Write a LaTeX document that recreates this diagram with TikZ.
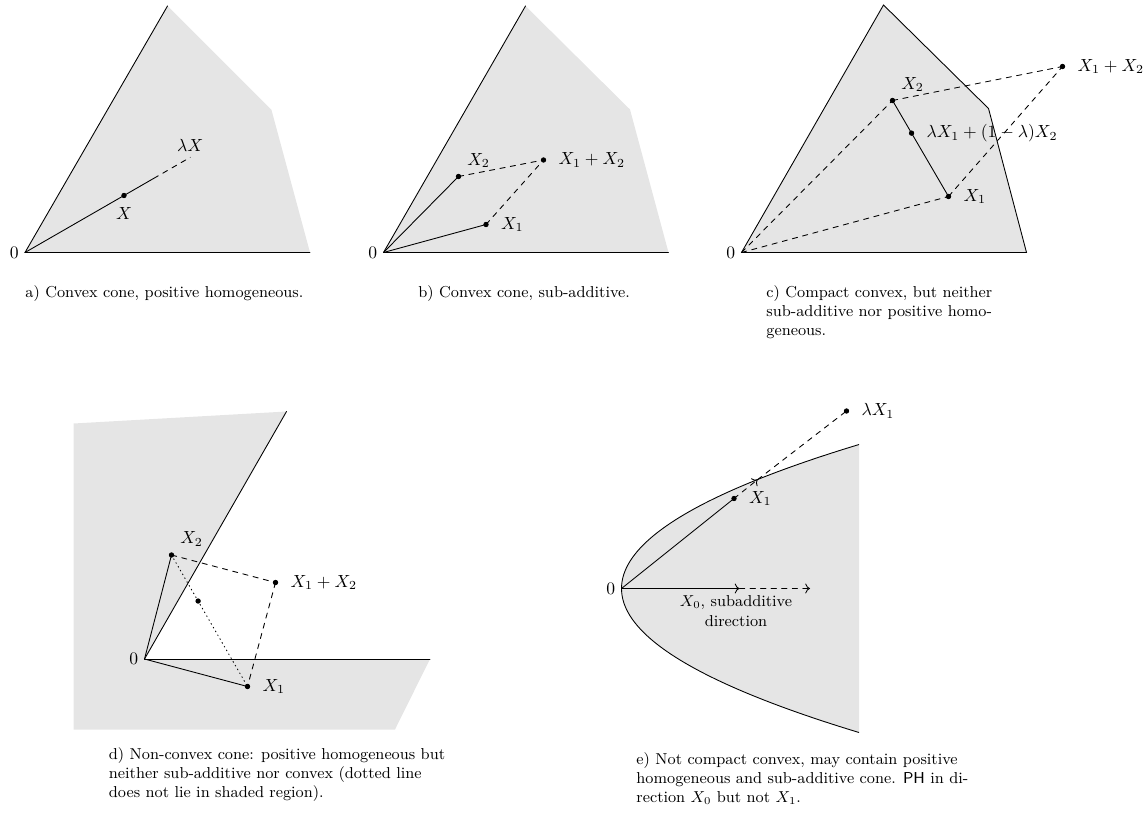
\documentclass[tikz,border=0pt]{standalone}
\usepackage{amsmath, amssymb}
\usepackage{tikz}
\usetikzlibrary{calc}
\usepackage{tkz-euclide}

\begin{document}
\begin{tikzpicture}[line width=0.5pt, region/.style={fill=gray!20},
    capt/.style={font=\small, align=left, anchor=north west, inner sep=0pt}]
    \tkzSetUpLine[line width=0.5pt]
    \tkzSetUpPoint[size=2.5pt, fill=black]
    \useasboundingbox (0,0) rectangle (22.9,16.24);

    % --- 1. (a) 凸錐，正齊次 ---
    \tkzDefPoint(0.50,11.19){O_a}
    \tkzDefPoint(3.35,16.12){P_a}
    \tkzDefPoint(5.43,14.04){Q_a}
    \tkzDefPoint(6.20,11.19){R_a}
    \tkzDefPoint(2.48,12.33){X_a}
    \coordinate (Y_a) at ($(O_a)!1.3!(X_a)$);
    \coordinate (L_a) at ($(O_a)!1.67!(X_a)$);
    \fill[region] (O_a) -- (P_a) -- (Q_a) -- (R_a) -- cycle;
    \tkzDrawSegments(O_a,P_a O_a,R_a O_a,Y_a)
    \tkzDrawSegment[dashed](Y_a,L_a)
    \tkzDrawPoints[fill=black](X_a)
    \tkzLabelPoint[left](O_a){$0$}
    \tkzLabelPoint[below=3pt](X_a){$X$}
    \tkzLabelPoint[above](L_a){$\lambda X$}
    \node[capt] (cap_a) at (0.50,10.54) {a) Convex cone, positive homogeneous.};

    % --- 2. (b) 凸錐，次可加 ---
    \tkzDefPoint(7.67,11.19){O_b}
    \tkzDefPoint(10.51,16.12){P_b}
    \tkzDefPoint(12.60,14.05){Q_b}
    \tkzDefPoint(13.37,11.19){R_b}
    \tkzDefPoint(9.72,11.75){X_b1}
    \tkzDefPoint(9.17,12.71){X_b2}
    \tkzDefPoint(10.87,13.04){S_b}
    \fill[region] (O_b) -- (P_b) -- (Q_b) -- (R_b) -- cycle;
    \tkzDrawSegments(O_b,P_b O_b,R_b O_b,X_b1 O_b,X_b2)
    \tkzDrawSegments[dashed](X_b2,S_b X_b1,S_b)
    \tkzDrawPoints[fill=black](X_b1,X_b2,S_b)
    \tkzLabelPoint[left](O_b){$0$}
    \tkzLabelPoint[above right=2pt](X_b2){$X_2$}
    \tkzLabelPoint[right=5pt](S_b){$X_1 + X_2$}
    \tkzLabelPoint[right=5pt](X_b1){$X_1$}
    \node[capt] (cap_b) at (8.36,10.54) {b) Convex cone, sub-additive.};

    % --- 3. (c) 緊凸集 ---
    \tkzDefPoint(14.83,11.19){O_c}
    \tkzDefPoint(17.67,16.14){P_c}
    \tkzDefPoint(19.77,14.07){Q_c}
    \tkzDefPoint(20.53,11.19){R_c}
    \tkzDefPoint(18.97,12.31){X_c1}
    \tkzDefPoint(17.85,14.23){X_c2}
    \tkzDefPoint(21.25,14.91){S_c}
    \coordinate (L_c) at ($(X_c2)!0.34!(X_c1)$);
    \draw[region] (O_c) -- (P_c) -- (Q_c) -- (R_c) -- cycle;
    \tkzDrawSegments[dashed](O_c,X_c1 O_c,X_c2 X_c2,S_c X_c1,S_c)
    \tkzDrawSegment(X_c1,X_c2)
    \tkzDrawPoints[fill=black](X_c1,X_c2,S_c,L_c)
    \tkzLabelPoint[left](O_c){$0$}
    \tkzLabelPoint[above right=2pt](X_c2){$X_2$}
    \tkzLabelPoint[right=5pt](X_c1){$X_1$}
    \tkzLabelPoint[right=5pt](S_c){$X_1 + X_2$}
    \tkzLabelPoint[right=5pt](L_c){$\lambda X_1 + (1-\lambda) X_2$}
    \node[capt] (cap_c) at (15.32,10.54) {c) Compact convex, but neither\\
        sub-additive nor positive homo-\\geneous.};

    % --- 4. (d) 非凸錐 ---
    \tkzDefPoint(2.89,3.06){O_d}
    \tkzDefPoint(5.73,8.01){P_d}
    \tkzDefPoint(8.60,3.06){R_d}
    \tkzDefPoint(1.47,7.77){T_d}
    \tkzDefPoint(1.47,1.65){U_d}
    \tkzDefPoint(7.90,1.65){V_d}
    \tkzDefPoint(4.95,2.51){X_d1}
    \tkzDefPoint(3.43,5.14){X_d2}
    \tkzDefPoint(5.51,4.59){S_d}
    \coordinate (M_d) at ($(X_d2)!0.35!(X_d1)$);
    \fill[region] (T_d) -- (P_d) -- (O_d) -- (R_d) -- (V_d) -- (U_d) -- cycle;
    \tkzDrawSegments(O_d,P_d O_d,R_d O_d,X_d1 O_d,X_d2)
    \tkzDrawSegments[dashed](X_d2,S_d S_d,X_d1)
    \tkzDrawSegment[dotted](X_d2,X_d1)
    \tkzDrawPoints[fill=black](X_d1,X_d2,S_d,M_d)
    \tkzLabelPoint[left](O_d){$0$}
    \tkzLabelPoint[above right=2pt](X_d2){$X_2$}
    \tkzLabelPoint[right=5pt](S_d){$X_1 + X_2$}
    \tkzLabelPoint[right=5pt](X_d1){$X_1$}
    \node[capt] (cap_d) at (2.17,1.30) {d) Non-convex cone: positive homogeneous but\\
        neither sub-additive nor convex (dotted line\\
        does not lie in shaded region).};

    % --- 5. (e) 非緊凸集（拋物線區域）---
    \tkzDefPoint(12.43,4.47){O_e}
    \tkzDefPoint(14.68,6.27){X_e1}
    \tkzDefPoint(16.93,8.02){L_e}
    \tkzDefPoint(14.79,4.47){H_e1}
    \tkzDefPoint(16.20,4.47){H_e2}
    \coordinate (B_e) at ($(O_e)!1.21!(X_e1)$);
    \fill[region] plot[domain=-2.88:2.88, samples=60]
        ({12.43+0.5727*\x*\x},{4.47+\x}) -- cycle;
    \draw plot[domain=-2.88:2.88, samples=60, smooth]
        ({12.43+0.5727*\x*\x},{4.47+\x});
    \tkzDrawSegment(O_e,X_e1)
    \tkzDrawSegment[dashed,->](X_e1,B_e)
    \tkzDrawSegment[dashed](B_e,L_e)
    \tkzDrawSegment[->](O_e,H_e1)
    \tkzDrawSegment[dashed,->](H_e1,H_e2)
    \tkzDrawPoints[fill=black](X_e1,L_e)
    \tkzLabelPoint[left](O_e){$0$}
    \tkzLabelPoint[right=5pt](X_e1){$X_1$}
    \tkzLabelPoint[right=5pt](L_e){$\lambda X_1$}
    \node[font=\small, align=center] (dir_e) at (14.72,4.02) {$X_0$, subadditive\\direction};
    \node[capt] (cap_e) at (12.72,1.20) {e) Not compact convex, may contain positive\\
        homogeneous and sub-additive cone. \textsf{PH} in di-\\
        rection $X_0$ but not $X_1$.};
\end{tikzpicture}
\end{document}
